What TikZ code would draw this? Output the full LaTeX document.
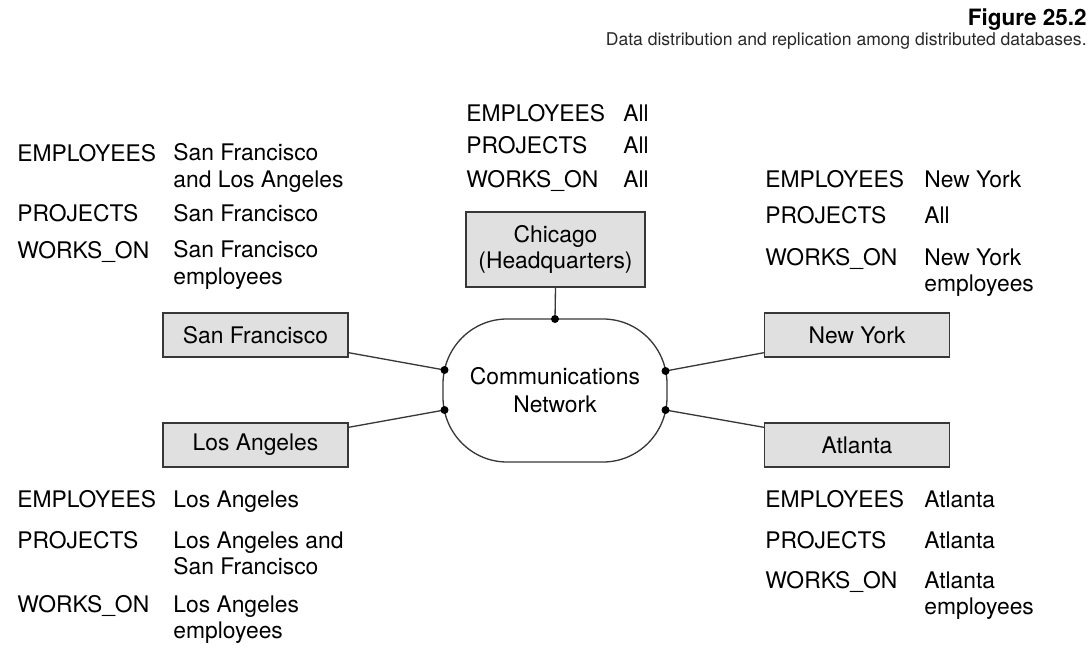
\documentclass[tikz,border=0pt]{standalone}
\usepackage{fontspec}
\setmainfont{TeX Gyre Heros}
\usepackage{xcolor}
\definecolor{site_fill}{RGB}{224, 224, 224}
\definecolor{site_line}{RGB}{55, 55, 55}
\definecolor{cap_text}{RGB}{40, 40, 40}
\usepackage{tikz}
\usetikzlibrary{positioning, calc}

\begin{document}
\begin{tikzpicture}[x=0.02cm, y=0.02cm,
    site/.style={draw=site_line, fill=site_fill, line width=0.8pt,
                 inner sep=0pt, align=center,
                 font=\fontsize{13}{15.2}\selectfont,
                 minimum width=3.7cm, minimum height=0.88cm},
    tbl/.style={anchor=base west, inner sep=0pt, align=left,
                font=\fontsize{13}{14.8}\selectfont},
    link/.style={line width=0.75pt, site_line},
    dot/.style={fill=black}]
        \useasboundingbox (0,0) rectangle (1091,647);

        % caption
        \node[anchor=base east, inner sep=0pt, font=\fontsize{12.8}{14}\selectfont\bfseries]
              (fig) at (1087,621) {Figure 25.2};
        \node[anchor=base east, inner sep=0pt, text=cap_text, font=\fontsize{10}{12}\selectfont]
              (cap) at (1087,602) {Data distribution and replication among distributed databases.};

        % sites
        \node[site] (sf) at (255.5,312) {San Francisco};
        \node[site] (la) at (255.5,202) {Los Angeles};
        \node[site] (ny) at (857,312) {New York};
        \node[site] (atl) at (857,202) {Atlanta};
        \node[site, minimum width=3.58cm, minimum height=1.5cm]
              (chi) at (555.5,397.5) {Chicago\\(Headquarters)};

        % network
        \draw[line width=0.75pt, site_line] (507,328) -- (603,328)
              arc[start angle=90, end angle=0, x radius=64, y radius=65] -- (667,250)
              arc[start angle=0, end angle=-90, x radius=64, y radius=65] -- (507,185)
              arc[start angle=270, end angle=180, x radius=64, y radius=65] -- (443,263)
              arc[start angle=180, end angle=90, x radius=64, y radius=65] -- cycle;
        \node[align=center, font=\fontsize{13}{15.9}\selectfont]
              (net) at (555,257) {Communications\\Network};
        \coordinate (netT) at (555,328);
        \coordinate (netL1) at (444.5,277);
        \coordinate (netL2) at (444.5,237);
        \coordinate (netR1) at (665.5,276);
        \coordinate (netR2) at (665.5,237);

        \draw[link] (chi.south) -- (netT);
        \draw[link] ($(sf.south east)+(0,5)$) -- (netL1);
        \draw[link] ($(la.north east)+(0,-5)$) -- (netL2);
        \draw[link] ($(ny.south west)+(0,5)$) -- (netR1);
        \draw[link] ($(atl.north west)+(0,-5)$) -- (netR2);
        \foreach \p in {netT, netL1, netL2, netR1, netR2}
            \fill[dot] (\p) circle (4);

        % San Francisco fragments (two-line values sit on their last line)
        \node[tbl] (sfEmp) at (17,486) {EMPLOYEES};
        \node[tbl] (sfEmpV) at (173,460) {San Francisco\\and Los Angeles};
        \node[tbl] (sfPrj) at (17,426) {PROJECTS};
        \node[tbl] (sfPrjV) at (173,426) {San Francisco};
        \node[tbl] (sfWrk) at (17,389) {WORKS\_ON};
        \node[tbl] (sfWrkV) at (173,363) {San Francisco\\employees};

        % Chicago fragments
        \node[tbl] (chiEmp) at (466,526) {EMPLOYEES};
        \node[tbl] (chiEmpV) at (623,526) {All};
        \node[tbl] (chiPrj) at (466,494) {PROJECTS};
        \node[tbl] (chiPrjV) at (623,494) {All};
        \node[tbl] (chiWrk) at (466,460) {WORKS\_ON};
        \node[tbl] (chiWrkV) at (623,460) {All};

        % New York fragments
        \node[tbl] (nyEmp) at (765,460) {EMPLOYEES};
        \node[tbl] (nyEmpV) at (924,460) {New York};
        \node[tbl] (nyPrj) at (765,424) {PROJECTS};
        \node[tbl] (nyPrjV) at (924,424) {All};
        \node[tbl] (nyWrk) at (765,382) {WORKS\_ON};
        \node[tbl] (nyWrkV) at (924,356) {New York\\employees};

        % Los Angeles fragments
        \node[tbl] (laEmp) at (17,140) {EMPLOYEES};
        \node[tbl] (laEmpV) at (173,140) {Los Angeles};
        \node[tbl] (laPrj) at (17,99) {PROJECTS};
        \node[tbl] (laPrjV) at (173,73) {Los Angeles and\\San Francisco};
        \node[tbl] (laWrk) at (17,35) {WORKS\_ON};
        \node[tbl] (laWrkV) at (173,9) {Los Angeles\\employees};

        % Atlanta fragments
        \node[tbl] (atlEmp) at (765,140) {EMPLOYEES};
        \node[tbl] (atlEmpV) at (924,140) {Atlanta};
        \node[tbl] (atlPrj) at (765,99) {PROJECTS};
        \node[tbl] (atlPrjV) at (924,99) {Atlanta};
        \node[tbl] (atlWrk) at (765,59) {WORKS\_ON};
        \node[tbl] (atlWrkV) at (924,33) {Atlanta\\employees};
      \end{tikzpicture}
\end{document}
